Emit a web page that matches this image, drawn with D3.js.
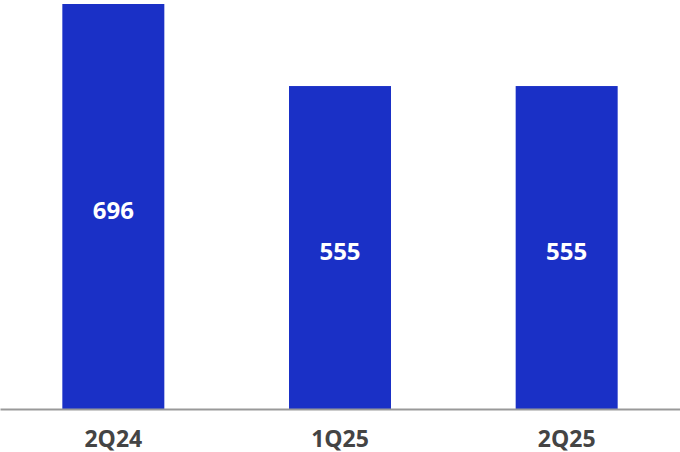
<!DOCTYPE html>
<html>
<head>
<meta charset="utf-8">
<script src="https://cdn.jsdelivr.net/npm/d3@7"></script>
<style>
  body { margin: 0; background: #fff; }
  svg { display: block; }
  .bar-label { font-family: "Open Sans", "Noto Sans", sans-serif; font-weight: bold; font-size: 24px; fill: #fff; }
  .axis text { font-family: "Open Sans", "Noto Sans", sans-serif; font-weight: bold; font-size: 23px; fill: #444; }
</style>
</head>
<body>
<svg id="chart" width="680" height="452"></svg>
<script>
'use strict';

const categories = ['2Q24', '1Q25', '2Q25'];
const values = [696, 555, 555];

const svg = d3.select('#chart');
const chartWidth = 680;
const chartTop = 4;
const chartBottom = 409;

const x = d3.scaleBand()
    .domain(categories)
    .range([0, chartWidth])
    .paddingInner(0.55)
    .paddingOuter(0.275);

const y = d3.scaleLinear()
    .domain([0, 696])
    .range([chartBottom, chartTop]);

const data = categories.map((c, i) => ({ cat: c, value: values[i] }));

svg.selectAll('rect.bar')
    .data(data)
    .enter().append('rect')
    .attr('class', 'bar')
    .attr('x', d => x(d.cat))
    .attr('y', d => y(d.value))
    .attr('width', x.bandwidth())
    .attr('height', d => chartBottom - y(d.value))
    .attr('fill', '#1a30c6');

svg.selectAll('text.bar-label')
    .data(data)
    .enter().append('text')
    .attr('class', 'bar-label')
    .attr('x', d => x(d.cat) + x.bandwidth() / 2)
    .attr('y', d => (y(d.value) + chartBottom) / 2 + 12.5)
    .attr('text-anchor', 'middle')
    .text(d => d.value);

// x axis: just a grey baseline and labels
const xAxis = d3.axisBottom(x).tickSize(0);

svg.append('g')
    .attr('class', 'axis')
    .attr('transform', 'translate(0,' + chartBottom + ')')
    .call(xAxis)
    .call(g => g.select('.domain').attr('stroke', '#999').attr('stroke-width', 2))
    .selectAll('.tick text')
    .attr('dy', null)
    .attr('y', 38);
</script>
</body>
</html>
